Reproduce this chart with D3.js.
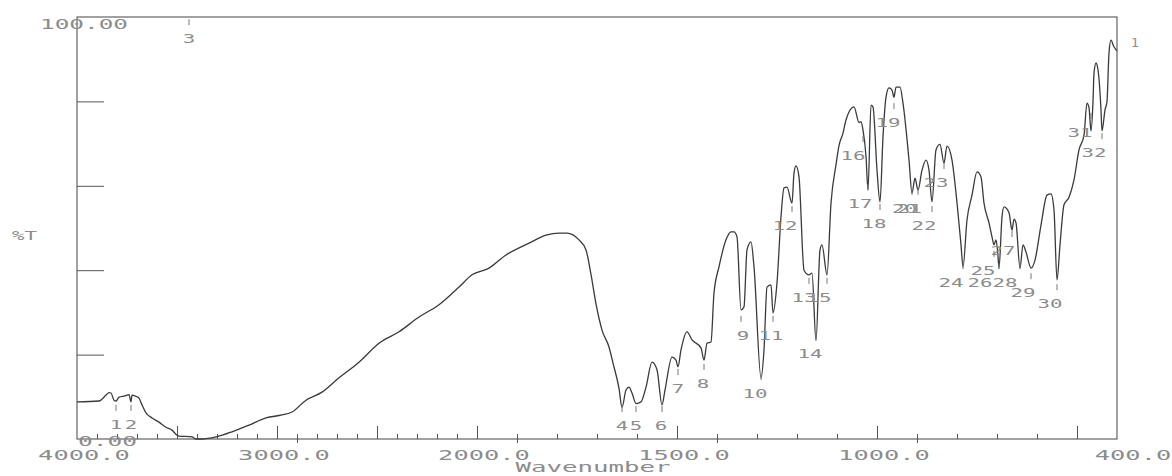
<!DOCTYPE html>
<html>
<head>
  <meta charset="utf-8">
  <title>IR spectrum</title>
  <script src="https://d3js.org/d3.v7.min.js"></script>
  <style>
    body { margin: 0; background: #fff; }
    text { font-family: "DejaVu Sans Mono", monospace; fill: #8c8c8c; }
  </style>
</head>
<body>
<script>
  // spectrum: wavenumber (cm-1) and %T
  var wavenumber = [
    4000, 3890, 3855, 3840, 3830, 3815, 3805, 3790, 3760, 3740, 3730, 3725, 3700,
    3690, 3675, 3655, 3625, 3590, 3555, 3525, 3500, 3490, 3425, 3405, 3375, 3305,
    3225, 3140, 3055, 2975, 2925, 2855, 2775, 2690, 2590, 2490, 2390, 2290, 2190,
    2090, 2025, 1970, 1927.5, 1870, 1827.5, 1795, 1775, 1745, 1727.5, 1715, 1702.5,
    1687.5, 1670, 1660, 1645, 1637.5, 1627.5, 1620, 1612.5, 1602.5, 1590, 1577.5,
    1562.5, 1550, 1537.5, 1530, 1512.5, 1502.5, 1497.5, 1490, 1475, 1462.5, 1440,
    1432.5, 1425, 1415, 1407.5, 1395, 1377.5, 1365, 1357.5, 1350, 1340, 1332.5,
    1325, 1315, 1307.5, 1290, 1282.5, 1275, 1265, 1260, 1250, 1240, 1232.5, 1225,
    1212.5, 1207.5, 1202.5, 1195, 1182.5, 1170, 1162.5, 1152.5, 1142.5, 1137.5,
    1125, 1115, 1102.5, 1095, 1085, 1077.5, 1057.5, 1045, 1040, 1035, 1027.5,
    1022.5, 1015, 1010, 1000, 992.5, 985, 977.5, 970, 962.5, 957.5, 952.5, 942.5,
    935, 920, 912.5, 905, 897.5, 887.5, 877.5, 870, 862.5, 852.5, 842.5, 832.5,
    825, 812.5, 800, 790, 785, 775, 762.5, 750, 740, 732.5, 720, 712.5, 707.5,
    702.5, 698, 695, 687.5, 682.5, 670, 662.5, 657.5, 652.5, 642.5, 635, 627.5,
    615, 605, 590, 575, 565, 557.5, 550, 542.5, 532.5, 520, 507.5, 495, 482.5,
    475, 470, 465, 460, 457.5, 452.5, 447.5, 440, 437.5, 430, 425, 420, 415, 408, 400
  ];
  var transmittance = [
    8.8, 9.0, 10.4, 11.0, 10.9, 9.2, 9.0, 9.9, 10.2, 10.5, 8.8, 10.4, 10.0,
    9.7, 8.1, 6.2, 5.0, 4.0, 2.8, 2.1, 0.9, 0.7, 0.5, 0.0, 0.0, 0.5,
    1.7, 3.3, 5.0, 5.7, 6.4, 9.2, 11.1, 14.5, 18.2, 22.7, 25.4, 28.9, 31.8,
    36.0, 38.9, 40.5, 43.6, 46.4, 48.3, 48.8, 48.8, 47.2, 44.8, 39.0, 32.0,
    25.8, 21.8, 18.0, 12.0, 7.5, 11.6, 12.3, 10.9, 8.4, 8.8, 12.3,
    18.2, 16.4, 8.1, 11.6, 19.4, 18.7, 17.1, 21.1, 25.4, 23.5, 21.6,
    18.7, 22.7, 23.0, 34.6, 40.8, 47.2, 49.1, 49.1, 47.9, 30.6, 31.3,
    44.8, 46.7, 40.8, 14.5, 21.1, 36.0, 36.5, 29.9, 37.0, 52.6, 59.5, 59.7,
    55.9, 63.0, 64.7, 62.1, 40.0, 38.9, 39.3, 23.3, 44.8, 46.0,
    38.9, 55.9, 65.0, 69.5, 72.5, 75.6, 78.7, 75.0, 75.2, 73.2, 67.0,
    59.0, 79.1, 78.7, 63.7, 56.2, 71.6, 81.0, 83.2, 82.7, 81.0, 83.4, 83.4,
    79.6, 66.1, 58.3, 61.8, 59.0, 63.7, 66.1, 63.7, 56.2, 68.5, 69.8, 65.4,
    69.4, 66.1, 56.0, 46.0, 40.8, 51.9, 57.8, 63.3, 62.1, 55.9, 51.2, 47.9, 46.0,
    47.2, 44.0, 40.5, 52.6, 55.0, 53.6, 49.5, 52.1, 51.2, 40.5, 46.0, 44.3,
    40.5, 42.4, 50.7, 57.8, 58.1, 54.3, 37.7, 46.0, 55.5, 57.3, 61.4, 68.5, 72.0,
    79.6, 78.5, 73.0, 80.0, 86.7, 89.1, 87.5, 78.0, 73.0, 78.0, 80.0, 91.5, 94.5, 93.0, 92.0
  ];

  // numbered peaks: peak wavenumber, and where the printer put the number (wavenumber, %T)
  var peakNames = ["1","2","3","4","5","6","7","8","9","10","11","12","13","14","15","16",
                   "17","18","19","20","21","22","23","24","25","26","27","28","29","30","31","32"];
  var peakWn = [3805, 3730, 3440, 1637.5, 1602.5, 1537.5, 1497.5, 1432.5, 1340, 1290, 1260,
                1212.5, 1170, 1152.5, 1125, 1035, 1022.5, 992.5, 957.5, 912.5, 897.5, 862.5,
                832.5, 785, 707.5, 695, 662.5, 642.5, 615, 550, 465, 437.5];
  var labelWn = [3805, 3730, 3440, 1637.5, 1602.5, 1540, 1497.5, 1435, 1335, 1305, 1265,
                 1230, 1182.5, 1167.5, 1145, 1060, 1042.5, 1007.5, 972.5, 931, 918.75, 882.5,
                 852.5, 815, 735, 742.5, 685, 680, 635, 567.5, 492.5, 457.5];
  var labelT = [2.4, 2.4, 93.8, 2.1, 2.1, 2.1, 10.9, 12.1, 23.5, 9.7, 23.5,
                49.5, 32.5, 19.2, 32.5, 66.1, 54.7, 50.0, 73.9, 53.6, 53.6, 49.5,
                59.7, 36.0, 38.9, 36.0, 43.6, 36.0, 33.6, 31.0, 71.6, 66.8];

  var xTickLabels = [4000, 3000, 2000, 1500, 1000, 400];
  var yTopLabel = "100.00", yBottomLabel = "0.00";

  var w = 1172, h = 476;
  var svg = d3.select("body").append("svg").attr("width", w).attr("height", h);

  // the x scale changes pitch at 2000 cm-1
  var x = d3.scaleLinear().domain([4000, 2000, 400]).range([77, 477, 1117]);
  var y = d3.scaleLinear().domain([0, 100]).range([439, 17]);

  var axisColor = "#555";

  // minor ticks every 100, long ones every 500
  var minor = svg.append("g").attr("transform", "translate(0," + y(0) + ")")
    .call(d3.axisBottom(x).tickValues(d3.range(3900, 400, -100)).tickSize(-5).tickSizeOuter(0).tickFormat(""));
  var major = svg.append("g").attr("transform", "translate(0," + y(0) + ")")
    .call(d3.axisBottom(x).tickValues([3500, 3000, 2500, 2000, 1500, 1000, 500]).tickSize(-13).tickSizeOuter(0).tickFormat(""));
  var down = svg.append("g").attr("transform", "translate(0," + y(0) + ")")
    .call(d3.axisBottom(x).tickValues([2900, 1900, 1400, 900]).tickSize(4).tickSizeOuter(0).tickFormat(""));
  var left = svg.append("g").attr("transform", "translate(" + x(4000) + ",0)")
    .call(d3.axisLeft(y).tickValues([20, 40, 60, 80]).tickSize(-27).tickSizeOuter(0).tickFormat(""));
  [minor, major, down, left].forEach(function(g) {
    g.select(".domain").remove();
    g.selectAll("line").attr("stroke", axisColor);
  });

  // frame
  svg.append("rect")
    .attr("x", x(4000)).attr("y", y(100))
    .attr("width", x(400) - x(4000)).attr("height", y(0) - y(100))
    .attr("fill", "none").attr("stroke", axisColor).attr("stroke-width", 1.1);

  // x tick labels
  svg.selectAll("text.xl").data(xTickLabels).enter().append("text")
    .attr("class", "xl")
    .attr("x", function(d) { return x(d) + (d === 400 ? 16 : 7); })
    .attr("y", y(0) + 21)
    .attr("text-anchor", "middle")
    .attr("font-size", "14px")
    .attr("textLength", function(d) { return d.toFixed(1).length * 15.3; })
    .attr("lengthAdjust", "spacingAndGlyphs")
    .text(function(d) { return d.toFixed(1); });

  svg.append("text")
    .attr("x", x(4000) - 37).attr("y", y(100) + 12)
    .attr("font-size", "14px")
    .attr("textLength", 88).attr("lengthAdjust", "spacingAndGlyphs")
    .text(yTopLabel);
  svg.append("text")
    .attr("x", x(4000) + 1).attr("y", y(0) + 7)
    .attr("font-size", "14px")
    .attr("textLength", 59).attr("lengthAdjust", "spacingAndGlyphs")
    .text(yBottomLabel);

  svg.append("text")
    .attr("x", 12).attr("y", (y(0) + y(100)) / 2 + 12)
    .attr("font-size", "12px")
    .attr("textLength", 25).attr("lengthAdjust", "spacingAndGlyphs")
    .text("%T");

  svg.append("text")
    .attr("x", 593).attr("y", y(0) + 33)
    .attr("text-anchor", "middle")
    .attr("font-size", "14px")
    .attr("textLength", 155).attr("lengthAdjust", "spacingAndGlyphs")
    .text("Wavenumber");

  // spectrum trace
  var pts = wavenumber.map(function(d, i) { return [d, transmittance[i]]; });
  var line = d3.line()
    .x(function(d) { return x(d[0]); })
    .y(function(d) { return y(d[1]); })
    .curve(d3.curveMonotoneX);
  svg.append("path")
    .datum(pts)
    .attr("d", line)
    .attr("fill", "none")
    .attr("stroke", "#3a3a3a")
    .attr("stroke-width", 1.3)
    .attr("stroke-linejoin", "round");

  // peak markers and numbers
  var peaks = peakNames.map(function(n, i) {
    return { name: n, wn: peakWn[i], lx: labelWn[i], lt: labelT[i] };
  });
  svg.selectAll("line.pk").data(peaks).enter().append("line")
    .attr("class", "pk")
    .attr("x1", function(d) { return x(d.wn); })
    .attr("x2", function(d) { return x(d.wn); })
    .attr("y1", function(d) { return y(d.lt) - 24; })
    .attr("y2", function(d) { return y(d.lt) - 18; })
    .attr("stroke", "#777")
    .attr("stroke-width", 1);
  svg.selectAll("text.pk").data(peaks).enter().append("text")
    .attr("class", "pk")
    .attr("x", function(d) { return x(d.lx); })
    .attr("y", function(d) { return y(d.lt); })
    .attr("text-anchor", "middle")
    .attr("font-size", "13px")
    .attr("textLength", function(d) { return d.name.length * 12.5; })
    .attr("lengthAdjust", "spacingAndGlyphs")
    .text(function(d) { return d.name; });

  // stray "1" printed right of the frame
  svg.append("text")
    .attr("x", x(400) + 18).attr("y", y(92.9))
    .attr("text-anchor", "middle")
    .attr("font-size", "13px")
    .text("1");
</script>
</body>
</html>
